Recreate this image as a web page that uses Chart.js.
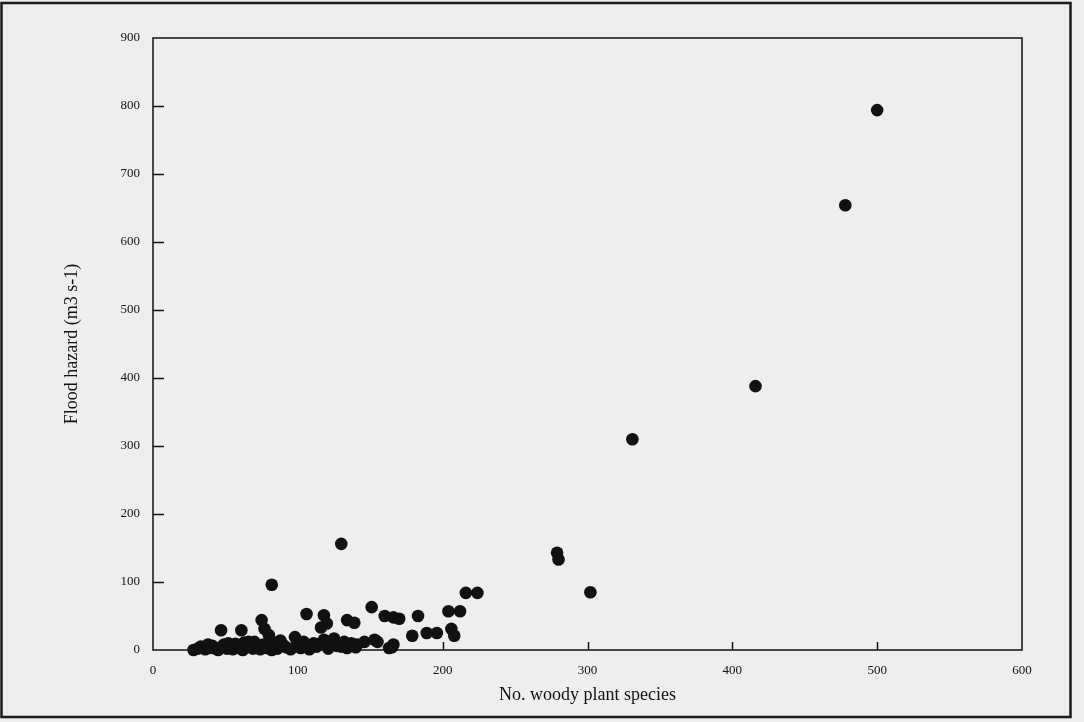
<!DOCTYPE html>
<html>
<head>
<meta charset="utf-8">
<script src="https://cdn.jsdelivr.net/npm/chart.js@4.4.0/dist/chart.umd.min.js"></script>
<style>
  html, body { margin: 0; padding: 0; background: #eceeef; }
  #wrap { width: 1084px; height: 722px; }
</style>
</head>
<body>
<div id="wrap"><canvas id="c" width="1084" height="722"></canvas></div>
<script>
// No. woody plant species vs flood hazard
const woodySpecies = [
  500, 478, 416, 331, 279, 280, 302, 130, 82,
  47, 61, 75, 77, 80, 88, 98, 106, 118, 116, 120, 134, 139, 151, 153, 155, 163, 166,
  160, 166, 170, 183, 179, 189, 196, 204, 212, 216, 224, 206, 208, 165,
  104, 111, 118, 125, 132, 137, 90,
  28, 31, 33, 36, 39, 41, 43, 45, 47, 49, 51, 53, 55, 57, 58, 60, 62, 63, 65, 67,
  69, 70, 72, 74, 76, 78, 80, 82, 84, 86, 89, 92, 95, 99, 102, 108, 113, 121, 127, 134, 141, 146,
  38, 52, 66, 85, 105, 115, 130, 140
];
const floodHazard = [
  794, 654, 388, 310, 143, 133, 85, 156, 96,
  29, 29, 44, 31, 22, 14, 19, 53, 51, 33, 39, 44, 40, 63, 15, 12, 3, 8,
  50, 48, 46, 50, 21, 25, 25, 57, 57, 84, 84, 31, 21, 4,
  12, 10, 15, 17, 12, 10, 7,
  0, 2, 5, 1, 3, 6, 2, 0, 4, 8, 2, 5, 1, 9, 3, 6, 0, 11, 4, 7,
  2, 12, 5, 1, 8, 3, 10, 0, 6, 2, 9, 4, 1, 6, 3, 1, 5, 2, 6, 3, 8, 12,
  8, 10, 12, 11, 7, 9, 5, 4
];
const xTicks = [0, 100, 200, 300, 400, 500, 600];
const yTicks = [0, 100, 200, 300, 400, 500, 600, 700, 800, 900];

const points = woodySpecies.map((x, i) => ({ x, y: floodHazard[i] }));
const serif = "'Liberation Serif', 'DejaVu Serif', serif";

// page frame, plot box and inward tick marks
const frame = {
  id: 'frame',
  beforeDraw(chart){
    const ctx = chart.ctx;
    ctx.save();
    ctx.fillStyle = '#eceeef';
    ctx.fillRect(0, 0, chart.width, chart.height);
    ctx.strokeStyle = '#1a1a1a';
    ctx.lineWidth = 2.5;
    ctx.strokeRect(1.5, 3, 1069, 714);
    ctx.restore();
  },
  afterDatasetsDraw(chart){
    const { ctx, chartArea: a, scales: { x, y } } = chart;
    ctx.save();
    ctx.strokeStyle = '#111';
    ctx.lineWidth = 1.5;
    ctx.strokeRect(a.left, a.top, a.right - a.left, a.bottom - a.top);
    ctx.beginPath();
    yTicks.slice(1, -1).forEach(v => {
      const py = Math.round(y.getPixelForValue(v)) + .5;
      ctx.moveTo(a.left, py); ctx.lineTo(a.left + 11, py);
    });
    xTicks.slice(1, -1).forEach(v => {
      const px = Math.round(x.getPixelForValue(v)) + .5;
      ctx.moveTo(px, a.bottom); ctx.lineTo(px, a.bottom - 8);
    });
    ctx.stroke();
    ctx.restore();
  }
};

new Chart(document.getElementById('c'), {
  type: 'scatter',
  data: {
    datasets: [{
      data: points,
      clip: false,
      pointRadius: 6.3,
      pointHoverRadius: 6.3,
      pointBackgroundColor: '#111',
      pointBorderWidth: 0
    }]
  },
  options: {
    responsive: false,
    animation: false,
    layout: { padding: { left: 61, right: 62, top: 38, bottom: 16 } },
    plugins: { legend: { display: false }, tooltip: { enabled: false } },
    scales: {
      x: {
        type: 'linear', min: 0, max: 600,
        afterFit(s){ s.height = 56; },
        afterBuildTicks(s){ s.ticks = xTicks.map(value => ({ value })); },
        grid: { display: false, drawTicks: false },
        border: { display: false },
        ticks: { padding: 13, color: '#111', font: { family: serif, size: 13 } },
        title: {
          display: true, text: 'No. woody plant species', color: '#111',
          font: { family: serif, size: 18 }, padding: 0
        }
      },
      y: {
        type: 'linear', min: 0, max: 900,
        afterFit(s){ s.width = 92; },
        afterBuildTicks(s){ s.ticks = yTicks.map(value => ({ value })); },
        grid: { display: false, drawTicks: false },
        border: { display: false },
        ticks: { padding: 13, color: '#111', font: { family: serif, size: 13 } },
        title: {
          display: true, text: 'Flood hazard (m3 s-1)', color: '#111',
          font: { family: serif, size: 18 }, padding: 0
        }
      }
    }
  },
  plugins: [frame]
});
</script>
</body>
</html>
